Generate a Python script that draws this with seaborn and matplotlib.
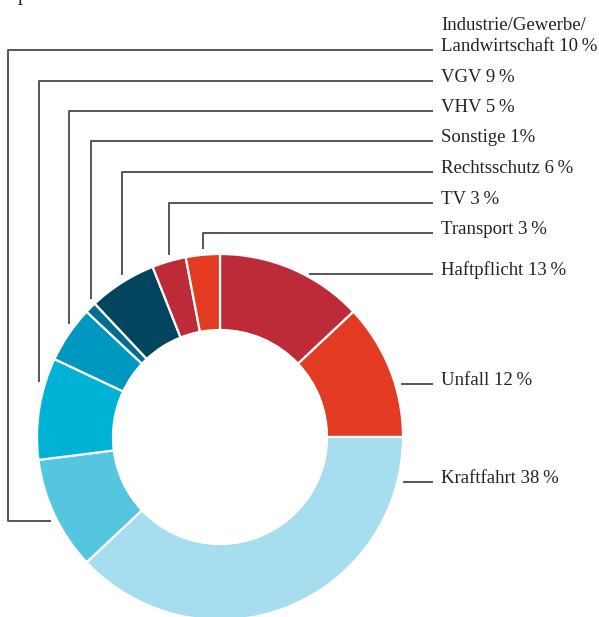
"""
Beitragsanteile nach Sparten - Donut-Diagramm
"""

import numpy as np
import matplotlib
matplotlib.use('Agg')
import matplotlib.pyplot as plt
import seaborn as sns

# -- Daten (im Uhrzeigersinn ab 12 Uhr) --
labels = ['Haftpflicht', 'Unfall', 'Kraftfahrt', 'Industrie/Gewerbe/\nLandwirtschaft',
          'VGV', 'VHV', 'Sonstige', 'Rechtsschutz', 'TV', 'Transport']
shares = [13, 12, 38, 10, 9, 5, 1, 6, 3, 3]
pct_text = ['13\u2009%', '12\u2009%', '38\u2009%', '10\u2009%', '9\u2009%',
            '5\u2009%', '1%', '6\u2009%', '3\u2009%', '3\u2009%']
colors = ['#bd2b38', '#e23b22', '#a6ddef', '#55c6df', '#00b3d6',
          '#0098c0', '#046c93', '#03455e', '#bd2b38', '#e23b22']

# -- Layout (Pixel, von oben links) --
W, H = 599, 617
CX, CY = 220, 437
R_OUT, R_IN = 183, 107
R_LEAD = 189          # Ende der Fuehrungslinien
label_y = [274, 384, 482, 50, 81, 111, 141, 172, 203, 233]
LINE_END = 433
TEXT_X = 441
LINE_COLOR = '#555555'

sns.set_style('white')
plt.rcParams['font.family'] = ['Liberation Serif', 'DejaVu Serif']

fig = plt.figure(figsize=(W / 100, H / 100), dpi=100)
ax = fig.add_axes([0, 0, 1, 1])


def fy(py):
    # Pixel von oben -> Datenkoordinate
    return H - py


ax.pie(shares, colors=colors, startangle=90, counterclock=False,
       center=(CX, fy(CY)), radius=R_OUT,
       wedgeprops=dict(width=R_OUT - R_IN, edgecolor='white', linewidth=1.6))
# pie() setzt eigene Grenzen -> danach zuruecksetzen
ax.set_xlim(0, W)
ax.set_ylim(0, H)
ax.set_aspect('equal')
ax.axis('off')

# Mittelwinkel der Segmente (Grad im Uhrzeigersinn ab 12 Uhr)
cum = np.cumsum([0] + shares)
mid = (cum[:-1] + cum[1:]) / 2 / sum(shares) * 360

line_kw = dict(color=LINE_COLOR, linewidth=1.4, solid_capstyle='butt')
for i, (name, pct) in enumerate(zip(labels, pct_text)):
    ly = label_y[i]
    a = np.deg2rad(mid[i])
    mx = CX + R_OUT * np.sin(a)
    my = CY - R_OUT * np.cos(a)
    if name.startswith('Industrie'):
        # Winkelverbindung ueber den linken Rand
        ey = my + 6
        ex = CX - np.sqrt(R_LEAD ** 2 - (ey - CY) ** 2)
        xs = [LINE_END, 8, 8, ex]
        ys = [ly, ly, ey, ey]
    elif mx < CX:
        ey = CY - np.sqrt(R_LEAD ** 2 - (mx - CX) ** 2)
        xs = [LINE_END, mx, mx]
        ys = [ly, ly, ey]
    else:
        dx = np.sqrt(max(R_OUT ** 2 - (ly - CY) ** 2, 0))
        start = CX + dx + 6
        xs = [start, LINE_END]
        ys = [ly, ly]
    ax.plot(xs, [fy(v) for v in ys], **line_kw)
    ax.text(TEXT_X, fy(ly + 1), f'{name} {pct}', fontsize=13.5, color='#222222',
            ha='left', va='baseline', linespacing=1.3)

# abgeschnittener Titel oben links
ax.text(18, fy(0), 'p', fontsize=15, color='#222222', ha='left', va='baseline')

fig.savefig('out.png', dpi=100)
plt.close(fig)
